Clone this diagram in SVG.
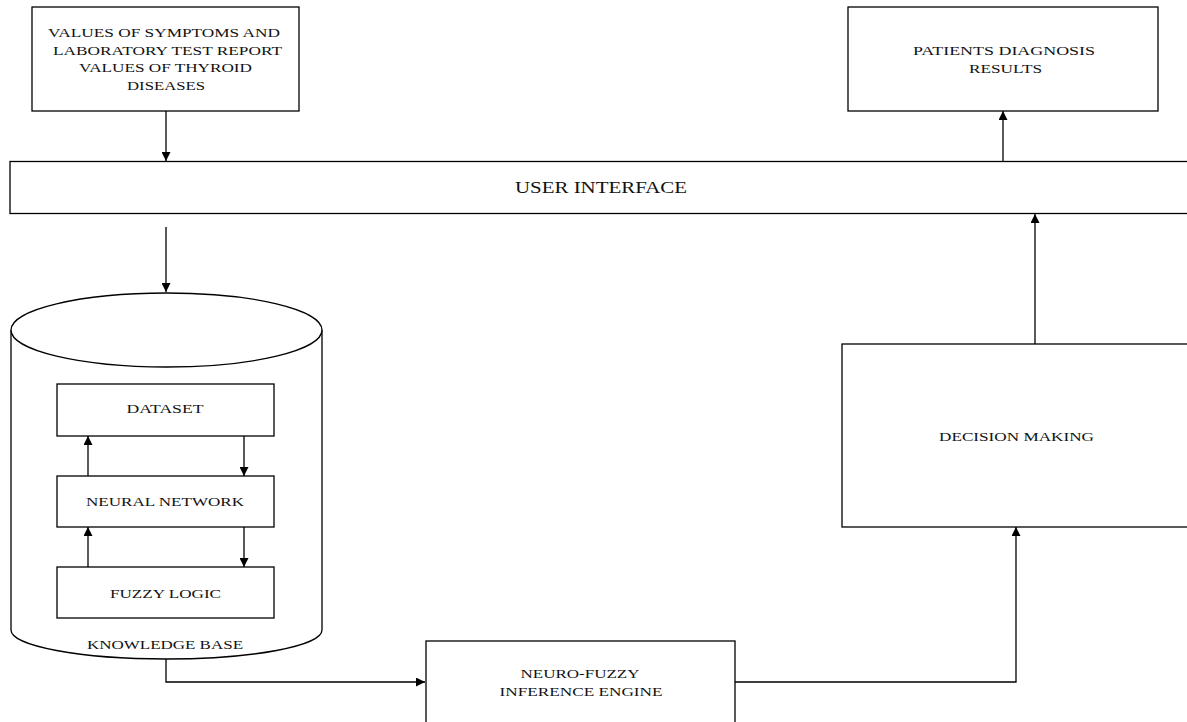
<svg xmlns="http://www.w3.org/2000/svg" width="1187" height="722" viewBox="0 0 1187 722">
<style>
.box{fill:#fff;stroke:#000;stroke-width:1.3}
.ln{fill:none;stroke:#000;stroke-width:1.3}
.t{font-family:"Liberation Serif","Times New Roman",serif;font-size:13px;fill:#111;text-anchor:middle}
.big{font-size:16px}
</style>
<defs>
<marker id="ah" viewBox="0 0 10 10" refX="10" refY="5" markerWidth="9" markerHeight="9" markerUnits="userSpaceOnUse" orient="auto">
<path d="M0,0 L10,5 L0,10 z" fill="#000"/>
</marker>
</defs>
<rect width="1187" height="722" fill="#fff"/>
<g id="input">
<rect class="box" x="32" y="7" width="267" height="104"/>
<text class="t" x="164" y="37" textLength="232" lengthAdjust="spacingAndGlyphs">VALUES OF SYMPTOMS AND</text>
<text class="t" x="167.5" y="55" textLength="229" lengthAdjust="spacingAndGlyphs">LABORATORY TEST REPORT</text>
<text class="t" x="165.5" y="72" textLength="173" lengthAdjust="spacingAndGlyphs">VALUES OF THYROID</text>
<text class="t" x="166" y="90" textLength="78" lengthAdjust="spacingAndGlyphs">DISEASES</text>
</g>
<g id="results">
<rect class="box" x="848" y="7" width="310" height="104"/>
<text class="t" x="1004" y="55" textLength="182" lengthAdjust="spacingAndGlyphs">PATIENTS  DIAGNOSIS</text>
<text class="t" x="1005.5" y="73" textLength="73" lengthAdjust="spacingAndGlyphs">RESULTS</text>
</g>
<g id="ui">
<rect class="box" x="10" y="161.5" width="1190" height="52"/>
<text class="t big" x="601" y="193" textLength="172" lengthAdjust="spacingAndGlyphs">USER INTERFACE</text>
</g>
<g id="kb">
<path class="box" d="M11,330 L11,630 A155.5,29 0 0 0 322,630 L322,330"/>
<ellipse class="box" cx="166.5" cy="330" rx="155.5" ry="37"/>
<text class="t" x="165" y="649" textLength="156" lengthAdjust="spacingAndGlyphs">KNOWLEDGE BASE</text>
</g>
<g id="dataset">
<rect class="box" x="57" y="384" width="217" height="52"/>
<text class="t" x="165" y="413" textLength="77" lengthAdjust="spacingAndGlyphs">DATASET</text>
</g>
<g id="nn">
<rect class="box" x="57" y="476" width="217" height="51"/>
<text class="t" x="165" y="506" textLength="158" lengthAdjust="spacingAndGlyphs">NEURAL NETWORK</text>
</g>
<g id="fuzzy">
<rect class="box" x="57" y="567" width="217" height="51"/>
<text class="t" x="165.5" y="598" textLength="111" lengthAdjust="spacingAndGlyphs">FUZZY LOGIC</text>
</g>
<g id="nfie">
<rect class="box" x="426" y="641" width="309" height="90"/>
<text class="t" x="580" y="678" textLength="119" lengthAdjust="spacingAndGlyphs">NEURO-FUZZY</text>
<text class="t" x="581" y="696" textLength="163" lengthAdjust="spacingAndGlyphs">INFERENCE ENGINE</text>
</g>
<g id="dm">
<rect class="box" x="842" y="344" width="360" height="183"/>
<text class="t" x="1016.5" y="441" textLength="155" lengthAdjust="spacingAndGlyphs">DECISION MAKING</text>
</g>
<g id="connectors">
<path class="ln" d="M166,111 L166,161" marker-end="url(#ah)"/>
<path class="ln" d="M166,227 L166,292" marker-end="url(#ah)"/>
<path class="ln" d="M1003,161 L1003,111" marker-end="url(#ah)"/>
<path class="ln" d="M1035,344 L1035,214" marker-end="url(#ah)"/>
<path class="ln" d="M166,659 L166,682 L425,682" marker-end="url(#ah)"/>
<path class="ln" d="M735,682 L1016,682 L1016,527" marker-end="url(#ah)"/>
<path class="ln" d="M88,476 L88,436" marker-end="url(#ah)"/>
<path class="ln" d="M88,567 L88,527" marker-end="url(#ah)"/>
<path class="ln" d="M244,436 L244,476" marker-end="url(#ah)"/>
<path class="ln" d="M244,527 L244,567" marker-end="url(#ah)"/>
</g>
</svg>
